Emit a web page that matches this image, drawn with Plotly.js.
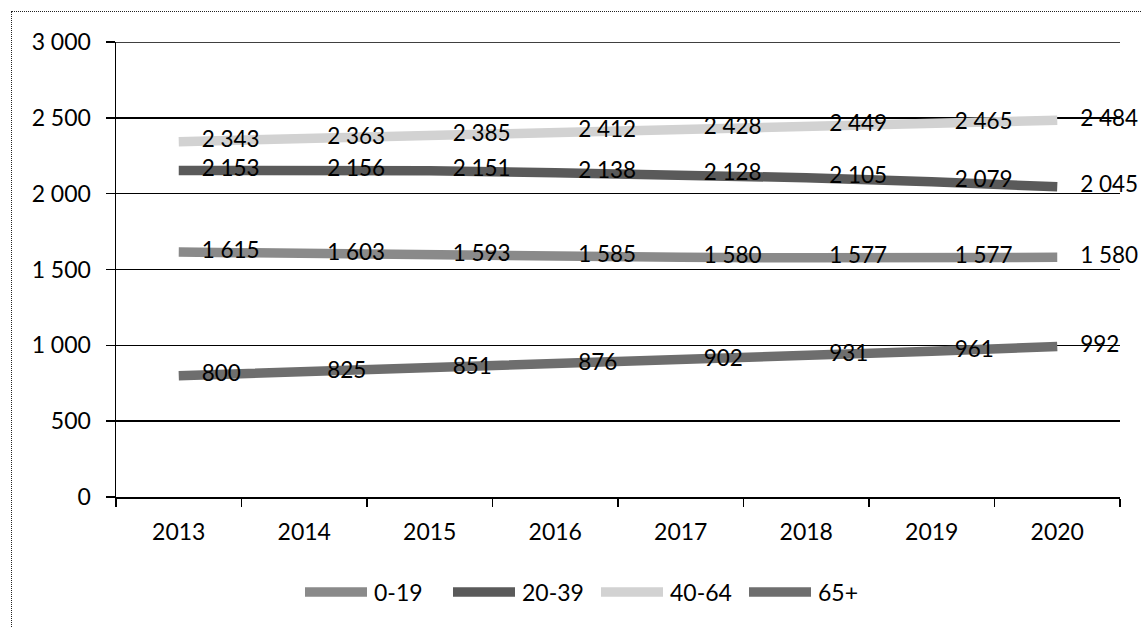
<!DOCTYPE html>
<html>
<head>
<meta charset="utf-8">
<script src="https://cdn.plot.ly/plotly-3.0.1.min.js"></script>
<style>
  html, body { margin: 0; padding: 0; background: #fff; overflow: hidden; }
  #chart { width: 1142px; height: 628px; }
  #frame { position: absolute; left: 11px; top: 11px; width: 1200px; height: 700px;
           border: 1.5px dotted #222; pointer-events: none; }
</style>
</head>
<body>
<div id="chart"></div>
<div id="frame"></div>
<script>
const years = ['2013', '2014', '2015', '2016', '2017', '2018', '2019', '2020'];
const seriesNames = ['0-19', '20-39', '40-64', '65+'];
const age0_19 = [1615, 1603, 1593, 1585, 1580, 1577, 1577, 1580];
const age20_39 = [2153, 2156, 2151, 2138, 2128, 2105, 2079, 2045];
const age40_64 = [2343, 2363, 2385, 2412, 2428, 2449, 2465, 2484];
const age65plus = [800, 825, 851, 876, 902, 931, 961, 992];
const seriesColors = ['#8a8a8a', '#5a5a5a', '#d2d2d2', '#6e6e6e'];
const yTicks = [0, 500, 1000, 1500, 2000, 2500, 3000];

const seriesValues = [age0_19, age20_39, age40_64, age65plus];
const FONT = 'Lato, "Open Sans", "Liberation Sans", sans-serif';

const traces = seriesValues.map((vals, i) => ({
  type: 'scatter',
  mode: 'lines+markers+text',
  name: seriesNames[i],
  x: years,
  y: vals,
  line: { color: seriesColors[i], width: 9.5 },
  marker: { size: 35, color: 'rgba(0,0,0,0)', line: { width: 0 } },
  texttemplate: '%{y:,}',
  textposition: 'middle right',
  textfont: { family: FONT, size: 22.5, color: '#000' },
  cliponaxis: false,
  showlegend: false,
  hoverinfo: 'x+y+name'
}));

// Legend drawn as paper-referenced shapes + annotations (long swatches like the original)
const PLOT_L = 116, PLOT_W = 1004, PLOT_B = 497, PLOT_H = 455;
const toPX = px => (px - PLOT_L) / PLOT_W;
const legendY = (PLOT_B - 592) / PLOT_H;
const legendStart = 305, itemStep = 148, swatchLen = 62, textGap = 5;
const shapes = [{
  // top gridline (Plotly drops the grid line sitting on the plot edge)
  type: 'line', xref: 'paper', yref: 'y', x0: 0, x1: 1,
  y0: yTicks[yTicks.length - 1], y1: yTicks[yTicks.length - 1],
  line: { color: '#000', width: 1.5 }, layer: 'below'
}];
const annotations = [];
seriesNames.forEach((name, i) => {
  const x0 = legendStart + i * itemStep;
  shapes.push({
    type: 'line', xref: 'paper', yref: 'paper',
    x0: toPX(x0), x1: toPX(x0 + swatchLen), y0: legendY, y1: legendY,
    line: { color: seriesColors[i], width: 9.5 }
  });
  annotations.push({
    xref: 'paper', yref: 'paper', x: toPX(x0 + swatchLen + textGap), y: legendY,
    xanchor: 'left', yanchor: 'middle', showarrow: false, text: name,
    font: { family: FONT, size: 23, color: '#000' }
  });
});

const layout = {
  width: 1142,
  height: 628,
  margin: { l: 116, r: 22, t: 42, b: 131 },
  paper_bgcolor: '#fff',
  plot_bgcolor: '#fff',
  separators: ', ',
  font: { family: FONT, size: 23, color: '#000' },
  showlegend: false,
  shapes: shapes,
  annotations: annotations,
  xaxis: {
    type: 'category',
    range: [-0.5, 7.5],
    tickson: 'boundaries',
    ticks: 'outside',
    ticklen: 8,
    tickwidth: 1.5,
    tickcolor: '#000',
    showline: true,
    linecolor: '#000',
    linewidth: 1.5,
    showgrid: false,
    zeroline: false,
    ticklabelstandoff: 14,
    tickfont: { family: FONT, size: 23, color: '#000' }
  },
  yaxis: {
    range: [0, 3000],
    tickvals: yTicks,
    ticktext: yTicks.map(v => v.toLocaleString('en-US').replace(/,/g, ' ')),
    ticks: 'outside',
    ticklen: 9,
    tickwidth: 1.5,
    tickcolor: '#000',
    showline: true,
    linecolor: '#000',
    linewidth: 1.5,
    showgrid: true,
    gridcolor: '#000',
    gridwidth: 1.5,
    zeroline: false,
    ticklabelstandoff: 10,
    tickfont: { family: FONT, size: 23, color: '#000' }
  }
};

Plotly.newPlot('chart', traces, layout, { displayModeBar: false, staticPlot: true });
</script>
</body>
</html>
